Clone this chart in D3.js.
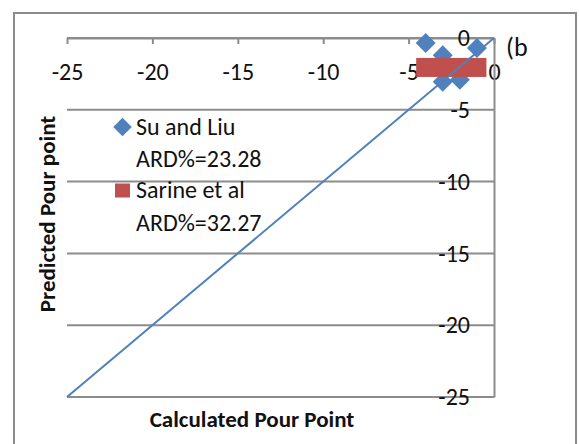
<!DOCTYPE html>
<html>
<head>
<meta charset="utf-8">
<script src="https://cdn.jsdelivr.net/npm/d3@7"></script>
<style>
  body { margin: 0; background: #fff; }
  text { font-family: Carlito, Calibri, "Open Sans", sans-serif; fill: #111; }
</style>
</head>
<body>
<div id="chart"></div>
<script>
// Su and Liu (blue diamonds)
const suCalc = [-4, -3, -1, -3, -2];
const suPred = [-0.35, -1.2, -0.7, -3.05, -2.9];
// Sarine et al (red squares)
const sarCalc = [-4, -3, -2, -1];
const sarPred = [-2.05, -2.05, -2.05, -2.05];
// y = x reference line
const diagX = [-25, 0];
const diagY = [-25, 0];

const xTicks = [-25, -20, -15, -10, -5, 0];
const yTicks = [0, -5, -10, -15, -20, -25];
const legendItems = [
  { name: "Su and Liu", ard: "ARD%=23.28", shape: "diamond", color: "#4f81bd" },
  { name: "Sarine et al", ard: "ARD%=32.27", shape: "square", color: "#c0504d" }
];

const svgWidth = 579, svgHeight = 444;
const svg = d3.select("#chart").append("svg")
    .attr("width", svgWidth)
    .attr("height", svgHeight);

// outer frame
svg.append("rect")
    .attr("x", 14).attr("y", 13)
    .attr("width", 562).attr("height", 440)
    .attr("fill", "none")
    .attr("stroke", "#8c8c8c")
    .attr("stroke-width", 2);

const x = d3.scaleLinear().domain([-25, 0]).range([67, 494]);
const y = d3.scaleLinear().domain([-25, 0]).range([397, 38]);
const fmt = d => String(d);

// horizontal gridlines
svg.append("g").selectAll("line")
    .data(yTicks)
    .join("line")
    .attr("x1", x(-25)).attr("x2", x(0))
    .attr("y1", d => y(d)).attr("y2", d => y(d))
    .attr("stroke", "#8c8c8c")
    .attr("stroke-width", 2);

// x axis (sits at y = 0, top of plot)
const xAxis = svg.append("g")
    .attr("transform", `translate(0, ${y(0)})`)
    .call(d3.axisBottom(x).tickValues(xTicks).tickSize(6).tickSizeOuter(0).tickFormat(fmt));
xAxis.select(".domain").attr("stroke", "#8c8c8c").attr("stroke-width", 2);
xAxis.selectAll(".tick line").attr("stroke", "#8c8c8c").attr("stroke-width", 2);
xAxis.selectAll(".tick text")
    .attr("y", 42).attr("dy", 0)
    .style("font-size", "24px")
    .attr("fill", "#111");

// y axis (sits at x = 0, right of plot)
const yAxis = svg.append("g")
    .attr("transform", `translate(${x(0)}, 0)`)
    .call(d3.axisLeft(y).tickValues(yTicks).tickSize(0).tickPadding(24).tickFormat(fmt));
yAxis.select(".domain").attr("stroke", "#8c8c8c").attr("stroke-width", 2);
yAxis.selectAll(".tick text")
    .style("font-size", "24px")
    .attr("fill", "#111");

// Su and Liu points
svg.append("g").selectAll("path")
    .data(suCalc)
    .join("path")
    .attr("d", d3.symbol().type(d3.symbolSquare).size(200))
    .attr("transform", (d, i) => `translate(${x(d)}, ${y(suPred[i])}) rotate(45)`)
    .attr("fill", "#4f81bd");

// Sarine et al points
svg.append("g").selectAll("rect")
    .data(sarCalc)
    .join("rect")
    .attr("x", d => x(d) - 9.5)
    .attr("y", (d, i) => y(sarPred[i]) - 9.5)
    .attr("width", 19).attr("height", 19)
    .attr("fill", "#c0504d");

// y = x line
svg.append("path")
    .datum(diagX.map((d, i) => [d, diagY[i]]))
    .attr("fill", "none")
    .attr("stroke", "#4f81bd")
    .attr("stroke-width", 2)
    .attr("d", d3.line().x(d => x(d[0])).y(d => y(d[1])));

// legend
const legend = svg.append("g");
legendItems.forEach((item, i) => {
  const cy = 127 + i * 64;
  if (item.shape === "diamond") {
    legend.append("path")
        .attr("d", d3.symbol().type(d3.symbolSquare).size(170))
        .attr("transform", `translate(122.5, ${cy}) rotate(45)`)
        .attr("fill", item.color);
  } else {
    legend.append("rect")
        .attr("x", 115).attr("y", cy - 7.5)
        .attr("width", 15).attr("height", 14)
        .attr("fill", item.color);
  }
  legend.append("text")
      .attr("x", 136).attr("y", 135 + i * 63)
      .style("font-size", "24px")
      .text(item.name);
  legend.append("text")
      .attr("x", 136).attr("y", 167 + i * 64)
      .style("font-size", "24px")
      .text(item.ard);
});

// axis titles
svg.append("text")
    .attr("x", 252).attr("y", 427)
    .attr("text-anchor", "middle")
    .style("font-size", "23px")
    .style("font-weight", "bold")
    .text("Calculated Pour Point");

svg.append("text")
    .attr("transform", "translate(55, 214) rotate(-90)")
    .attr("text-anchor", "middle")
    .style("font-size", "23px")
    .style("font-weight", "bold")
    .text("Predicted Pour point");

// panel label
svg.append("text")
    .attr("x", 506).attr("y", 56)
    .style("font-size", "26px")
    .text("(b");
</script>
</body>
</html>
